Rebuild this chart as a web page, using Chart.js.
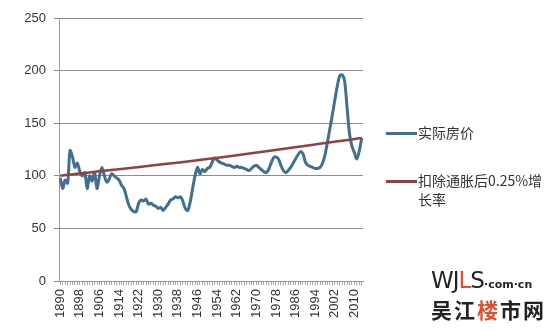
<!DOCTYPE html>
<html>
<head>
<meta charset="utf-8">
<script src="https://cdn.jsdelivr.net/npm/chart.js@4/dist/chart.umd.min.js"></script>
<style>
    body { margin: 0; background: #fff; }
    #wrap { position: relative; width: 560px; height: 331px; }
    .legend { position: absolute; left: 386px; font-family: "Noto Sans CJK SC", sans-serif; font-size: 14px; color: #333; line-height: 19px; }
    .legend .sw { position: absolute; left: 0; width: 31px; height: 3px; }
    .legend .txt { position: absolute; left: 32px; width: 140px; }
    #wm1 { position: absolute; left: 431px; top: 267px; font-family: "DejaVu Sans", sans-serif; font-size: 23px; color: #222; letter-spacing: -1px; }
    #wm1 small { font-size: 11px; letter-spacing: 0; font-weight: bold; }
    #wm2 { position: absolute; left: 431px; top: 294px; font-family: "Noto Sans CJK SC", sans-serif; font-size: 21px; font-weight: bold; color: #222; letter-spacing: 2px; }
</style>
</head>
<body>
<div id="wrap">
    <canvas id="houseChart" width="560" height="331"></canvas>
    <div class="legend" style="top:123px;"><div class="sw" style="top:9px;background:#41708f;"></div><div class="txt">实际房价</div></div>
    <div class="legend" style="top:171px;"><div class="sw" style="top:9px;background:#93403f;"></div><div class="txt">扣除通胀后0.25%增<br>长率</div></div>
    <div id="wm1">WJ<span style="color:#e0502a">L</span>S<small style="color:#222">·com·cn</small></div>
    <div id="wm2">吴江<span style="color:#e0502a">楼</span>市网</div>
</div>
<script>
    const firstYear = 1890;
    const lastYear = 2013;
    const years = [];
    for (let y = firstYear; y <= lastYear; y++) years.push(String(y));

    // 实际房价, one value per year 1890-2013
    const realPrice = [
        98, 88, 96, 93, 124, 118, 108, 112, 104, 100,
        103, 88, 100, 95, 103, 88, 100, 108, 100, 94,
        97, 102, 100, 98, 96, 91, 88, 80, 72, 68,
        66, 66, 74, 77, 76, 78, 73, 74, 72, 71,
        69, 70, 67, 70, 73, 77, 78, 80, 79, 80,
        76, 69, 67, 75, 88, 100, 108, 102, 106, 104,
        107, 108, 113, 117, 115, 113, 112, 111, 110, 110,
        109, 108, 109, 108, 108, 107, 106, 105, 107, 109,
        110, 108, 106, 104, 103, 106, 112, 117, 118, 116,
        110, 105, 103, 105, 108, 112, 116, 120, 123, 121,
        113, 110, 109, 108, 107, 107, 108, 112, 120, 132,
        145, 158, 172, 185, 195, 196, 190, 165, 140, 128,
        122, 116, 124, 136
    ];

    // 扣除通胀后0.25%增长率
    const trendYears = ['1890', '1950', '2013'];
    const trendValues = [100, 116, 136];

    const yTicks = [0, 50, 100, 150, 200, 250];
    const labelStep = 8;

    new Chart(document.getElementById('houseChart'), {
        type: 'line',
        data: {
            labels: years,
            datasets: [{
                label: '实际房价',
                data: realPrice,
                borderColor: '#41708f',
                borderWidth: 3,
                pointRadius: 0,
                tension: 0.3,
                order: 2
            }, {
                label: '扣除通胀后0.25%增长率',
                data: trendYears.map((y, i) => ({ x: y, y: trendValues[i] })),
                borderColor: '#93403f',
                borderWidth: 2.5,
                pointRadius: 0,
                tension: 0.3,
                order: 1
            }]
        },
        options: {
            responsive: false,
            animation: false,
            layout: { padding: { top: 18, right: 197, bottom: 0, left: 0 } },
            plugins: { legend: { display: false }, tooltip: { enabled: false } },
            scales: {
                x: {
                    offset: true,
                    grid: { drawOnChartArea: false, tickLength: 4, color: '#aaa' },
                    border: { color: '#999' },
                    afterFit: s => { s.height = 50; },
                    ticks: {
                        autoSkip: false,
                        maxRotation: 90,
                        minRotation: 90,
                        padding: 4,
                        color: '#333',
                        font: { family: 'Liberation Sans', size: 13 },
                        callback: function (v, i) {
                            return i % labelStep === 0 ? years[i] : '';
                        }
                    }
                },
                y: {
                    min: 0,
                    max: 250,
                    afterFit: s => { s.width = 59; },
                    afterBuildTicks: s => { s.ticks = yTicks.map(v => ({ value: v })); },
                    grid: { color: '#8c8c8c', tickLength: 5 },
                    border: { color: '#999' },
                    ticks: {
                        padding: 8,
                        color: '#333',
                        font: { family: 'Liberation Sans', size: 13 }
                    }
                }
            }
        }
    });
</script>
</body>
</html>
